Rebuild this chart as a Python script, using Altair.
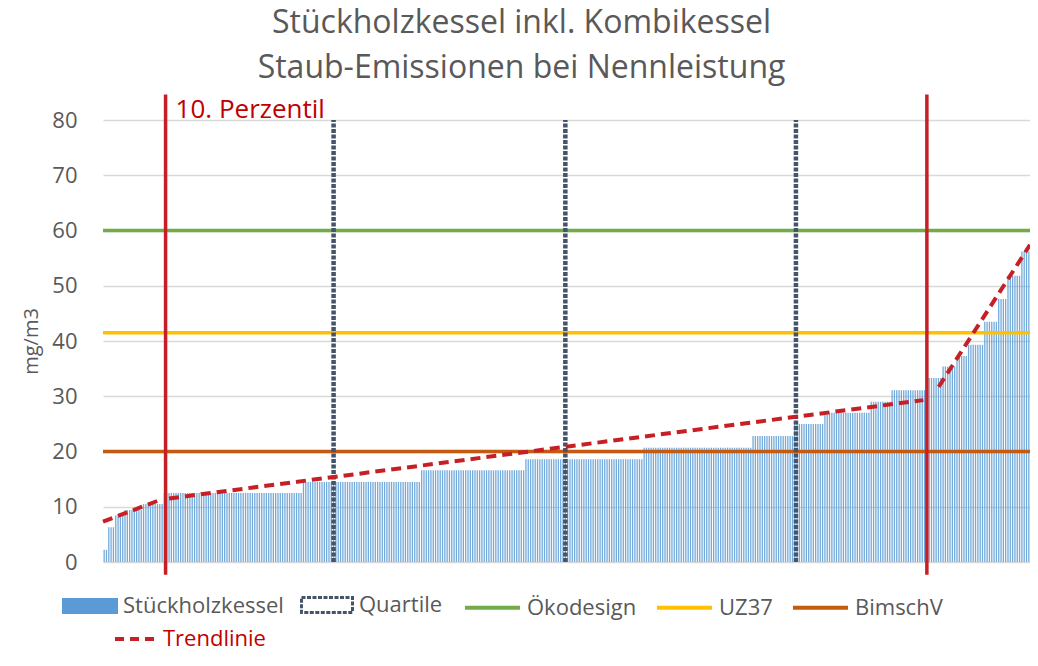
import altair as alt
import pandas as pd

# ---- data ----
# sorted measurements, stored as runs of equal values (value, number of boilers)
step_values = [2.2, 6.3, 8.4, 9.4, 10.5, 12.5, 14.5, 16.6, 18.6, 20.7, 22.8, 25.0,
               27.0, 29.0, 31.1, 33.3, 35.4, 37.3, 39.3, 43.5, 47.6, 51.8, 56.2]
step_counts = [2, 3, 4, 8, 9, 60, 51, 45, 51, 47, 18, 13,
               20, 9, 15, 7, 6, 5, 7, 6, 4, 6, 4]

limit_names = ["Ökodesign", "UZ37", "BimschV"]
limit_values = [60, 41.5, 20]
limit_colors = ["#70AD47", "#FFC000", "#C55A11"]

quartile_pos = [99.5, 199.5, 299.0]
quartile_span = [0, 80]

percentile_pos = [27.0, 355.5]
percentile_span = [-2.3, 84.6]
percentile_label = ["10. Perzentil"]

trend_seg = [1, 1, 2, 2, 3, 3]
trend_x = [0, 25, 28.5, 354, 360.6, 400]
trend_y = [7.3, 11.3, 11.5, 29.3, 31.7, 57.4]

y_ticks = [0, 10, 20, 30, 40, 50, 60, 70, 80]

title_lines = ["Stückholzkessel inkl. Kombikessel", "Staub-Emissionen bei Nennleistung"]

# ---- tables ----
values = []
for v, c in zip(step_values, step_counts):
    values += [v] * c
bar_df = pd.DataFrame({"pos": [i + 0.5 for i in range(len(values))],
                       "value": values,
                       "series": "Stückholzkessel"})
limit_df = pd.DataFrame({"name": limit_names, "value": limit_values})
q_df = pd.DataFrame({"pos": quartile_pos, "lo": quartile_span[0], "hi": quartile_span[1],
                     "label": "Quartile"})
p_df = pd.DataFrame({"pos": percentile_pos, "lo": percentile_span[0], "hi": percentile_span[1]})
t_df = pd.DataFrame({"seg": trend_seg, "x": trend_x, "y": trend_y, "name": "Trendlinie"})
lab_df = pd.DataFrame({"pos": [percentile_pos[0]], "y": [quartile_span[1]], "label": percentile_label})

FONT = "Open Sans"
GREY = "#595959"
RED = "#C62026"

xs = alt.Scale(domain=[0, len(values)], nice=False, zero=False, padding=0)
ys = alt.Scale(domain=[0, 80], nice=False, zero=False, padding=0)
yaxis = alt.Axis(values=y_ticks, title="mg/m3", ticks=False, domain=False,
                 labelFontSize=22, labelColor=GREY, labelPadding=26, labelFont=FONT,
                 titleFontSize=20, titleColor=GREY, titleFontWeight="normal", titleFont=FONT,
                 titlePadding=10, grid=True, gridColor="#D9D9D9", gridWidth=1.5)

leg_common = dict(title=None, orient="none", padding=0, labelFontSize=22, labelColor=GREY,
                  labelFont=FONT, labelOffset=5, labelLimit=400)

bars = alt.Chart(bar_df).mark_bar(size=1.3, opacity=0.85).encode(
    x=alt.X("pos:Q", scale=xs, axis=None),
    y=alt.Y("value:Q", scale=ys, axis=yaxis),
    fill=alt.Fill("series:N", scale=alt.Scale(domain=["Stückholzkessel"], range=["#5B9BD5"]),
                  legend=alt.Legend(legendX=-41, legendY=458, symbolType="M-1,-0.29H1V0.29H-1Z",
                                    symbolSize=3136, symbolStrokeWidth=0, symbolOpacity=1,
                                    **leg_common)),
)

limits = alt.Chart(limit_df).mark_rule(strokeWidth=3.5).encode(
    y=alt.Y("value:Q", scale=ys, axis=yaxis),
    color=alt.Color("name:N", scale=alt.Scale(domain=limit_names, range=limit_colors),
                    legend=alt.Legend(legendX=360, legendY=458, direction="horizontal",
                                      symbolType="stroke", symbolSize=3025, symbolStrokeWidth=4,
                                      columnPadding=12, **leg_common)),
)

quart = alt.Chart(q_df).mark_rule(strokeWidth=4.5, color="#44546A").encode(
    x=alt.X("pos:Q", scale=xs, axis=None),
    y=alt.Y("lo:Q", scale=ys, axis=yaxis),
    y2="hi:Q",
    strokeDash=alt.StrokeDash("label:N", scale=alt.Scale(domain=["Quartile"], range=[[4, 1.5]]),
                              legend=alt.Legend(legendX=197, legendY=458,
                                                symbolType="M-1,-0.29H1V0.29H-1Z", symbolSize=2601,
                                                symbolStrokeColor="#44546A", symbolFillColor="transparent",
                                                symbolStrokeWidth=3, symbolDash=[3, 2], **leg_common)),
)

perc = alt.Chart(p_df).mark_rule(strokeWidth=3.5, color=RED).encode(
    x=alt.X("pos:Q", scale=xs, axis=None),
    y=alt.Y("lo:Q", scale=ys, axis=yaxis),
    y2="hi:Q",
)

trend = alt.Chart(t_df).mark_line(strokeWidth=4, strokeDash=[10, 6]).encode(
    x=alt.X("x:Q", scale=xs, axis=None),
    y=alt.Y("y:Q", scale=ys, axis=yaxis),
    detail="seg:N",
    stroke=alt.Stroke("name:N", scale=alt.Scale(domain=["Trendlinie"], range=[RED]),
                      legend=alt.Legend(title=None, orient="none", padding=0, legendX=10, legendY=497,
                                        symbolType="stroke", symbolSize=1600, symbolStrokeWidth=4,
                                        symbolDash=[9, 6], symbolStrokeColor=RED,
                                        labelFontSize=22, labelColor="#C00000", labelFont=FONT,
                                        labelOffset=6, labelLimit=400)),
)

label = alt.Chart(lab_df).mark_text(align="left", baseline="alphabetic", dx=10, dy=-2,
                                    fontSize=26, color="#C00000", font=FONT).encode(
    x=alt.X("pos:Q", scale=xs, axis=None),
    y=alt.Y("y:Q", scale=ys, axis=yaxis),
    text="label:N",
)

chart = alt.layer(bars, limits, quart, perc, trend, label).properties(
    width=927, height=442,
    padding={"left": 95, "top": 112, "right": 0, "bottom": 90},
    autosize=alt.AutoSizeParams(type="none"),
    title=alt.TitleParams(text=title_lines[0], subtitle=title_lines[1],
                          fontSize=32, color=GREY, fontWeight="normal", font=FONT,
                          subtitleFontSize=32, subtitleColor=GREY, subtitleFont=FONT,
                          subtitleFontWeight="normal", subtitlePadding=13,
                          anchor="middle", dx=-45, offset=8),
).configure_view(stroke=None).resolve_scale(color="independent")

chart.save("out.html", embed_options={"renderer": "svg", "actions": False})
